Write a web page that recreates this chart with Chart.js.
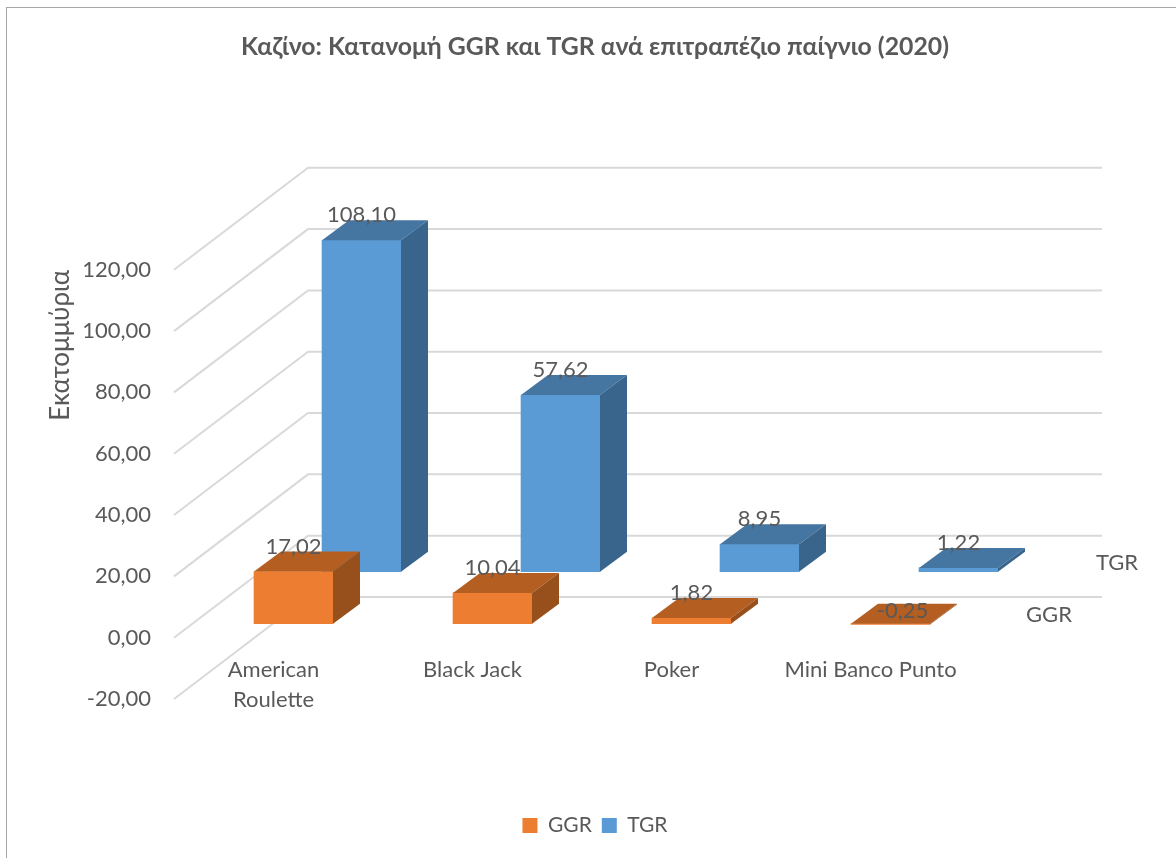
<!DOCTYPE html>
<html lang="el">
<head>
  <meta charset="UTF-8">
  <title>Καζίνο GGR TGR</title>
  <script src="https://cdn.jsdelivr.net/npm/chart.js"></script>
  <style>
    body { margin: 0; background: #fff; }
    #wrap { position: relative; width: 1176px; height: 858px; overflow: hidden; }
    #frame { position: absolute; left: 6px; top: 7px; width: 1300px; height: 1000px; border: 1px solid #a6a6a6; }
    canvas { position: absolute; left: 0; top: 0; }
  </style>
</head>
<body>
  <div id="wrap">
    <div id="frame"></div>
    <canvas id="casinoChart" width="1176" height="858"></canvas>
  </div>

  <script>
    const games = [['American', 'Roulette'], 'Black Jack', 'Poker', 'Mini Banco Punto'];
    const ggrValues = [17.02, 10.04, 1.82, -0.25];
    const tgrValues = [108.10, 57.62, 8.95, 1.22];

    const fontName = 'Lato, "Noto Sans", sans-serif';
    const textColor = '#595959';

    // how far each row sits back in the fake 3D floor
    const rowOffset = { GGR: [20, -14], TGR: [88, -66] };
    const faceColors = {
      GGR: { top: '#b45f21', side: '#974f1b' },
      TGR: { top: '#4575a1', side: '#39658c' }
    };
    const barDepth = [27, -20];
    const wallDepth = [134, -102];

    function formatNumber(v) {
      return v.toFixed(2).replace('.', ',');
    }

    const floorPlugin = {
      id: 'floor',
      // gridlines go along the floor then across the back wall
      beforeDatasetsDraw(chart) {
        const { ctx, scales } = chart;
        const y = scales.y;
        ctx.save();
        ctx.strokeStyle = '#d9d9d9';
        ctx.lineWidth = 2;
        y.ticks.forEach(t => {
          const py = y.getPixelForValue(t.value);
          ctx.beginPath();
          ctx.moveTo(scales.x.left, py);
          ctx.lineTo(scales.x.left + wallDepth[0], py + wallDepth[1]);
          ctx.lineTo(1102, py + wallDepth[1]);
          ctx.stroke();
        });
        ctx.restore();
      },
      beforeDatasetDraw(chart, args) {
        const off = rowOffset[args.meta.label];
        chart.ctx.save();
        chart.ctx.translate(off[0], off[1]);
      },
      afterDatasetDraw(chart, args) {
        const { ctx } = chart;
        const colors = faceColors[args.meta.label];
        args.meta.data.forEach(bar => {
          const left = bar.x - bar.width / 2;
          const right = bar.x + bar.width / 2;
          const top = Math.min(bar.y, bar.base);
          const bottom = Math.max(bar.y, bar.base);
          ctx.fillStyle = colors.top;
          ctx.beginPath();
          ctx.moveTo(left, top);
          ctx.lineTo(left + barDepth[0], top + barDepth[1]);
          ctx.lineTo(right + barDepth[0], top + barDepth[1]);
          ctx.lineTo(right, top);
          ctx.closePath();
          ctx.fill();
          ctx.fillStyle = colors.side;
          ctx.beginPath();
          ctx.moveTo(right, top);
          ctx.lineTo(right + barDepth[0], top + barDepth[1]);
          ctx.lineTo(right + barDepth[0], bottom + barDepth[1]);
          ctx.lineTo(right, bottom);
          ctx.closePath();
          ctx.fill();
        });
        ctx.restore();
      },
      afterDatasetsDraw(chart) {
        const { ctx, scales } = chart;
        ctx.save();
        ctx.font = '22px ' + fontName;
        ctx.fillStyle = textColor;
        ctx.textAlign = 'center';
        ctx.textBaseline = 'middle';
        chart.data.datasets.forEach((ds, i) => {
          const off = rowOffset[ds.label];
          chart.getDatasetMeta(i).data.forEach((bar, j) => {
            const v = ds.data[j];
            const top = Math.min(bar.y, bar.base);
            const lx = bar.x + off[0] + (v < 0 ? 12 : 0);
            const ly = top + off[1] + (v < 0 ? -13 : -25);
            ctx.fillText(formatNumber(v), lx, ly);
          });
          // series name at the end of the depth axis
          ctx.fillText(ds.label, scales.x.right + off[0] + 59, scales.y.getPixelForValue(0) + off[1] - 9);
        });
        ctx.restore();
      }
    };

    new Chart(document.getElementById('casinoChart'), {
      type: 'bar',
      data: {
        labels: games,
        datasets: [
          { label: 'GGR', data: ggrValues, backgroundColor: '#ed7d31' },
          { label: 'TGR', data: tgrValues, backgroundColor: '#5b9bd5' }
        ]
      },
      plugins: [floorPlugin],
      options: {
        responsive: false,
        animation: false,
        grouped: false,
        barThickness: 79,
        layout: { padding: { left: 14, top: 0, right: 0, bottom: 12 } },
        plugins: {
          tooltip: { enabled: false },
          title: {
            display: true,
            text: 'Καζίνο: Κατανομή GGR και TGR ανά επιτραπέζιο παίγνιο (2020)',
            color: textColor,
            font: { family: fontName, size: 24.8, weight: 'bold' },
            padding: { top: 32, bottom: 208 }
          },
          legend: {
            position: 'bottom',
            labels: {
              color: textColor,
              font: { family: fontName, size: 21 },
              boxWidth: 15,
              boxHeight: 15,
              padding: 10
            }
          }
        },
        scales: {
          x: {
            position: { y: 0 },
            grid: { display: false, drawTicks: false },
            border: { display: false },
            ticks: {
              color: textColor,
              font: { family: fontName, size: 22, lineHeight: 1.36 },
              padding: 17,
              maxRotation: 0,
              autoSkip: false
            }
          },
          y: {
            min: -20,
            max: 120,
            grid: { display: false, drawTicks: false },
            border: { display: false },
            afterFit(s) { s.width = 160; },
            title: {
              display: true,
              text: 'Εκατομμύρια',
              align: 'end',
              color: textColor,
              font: { family: fontName, size: 26 },
              padding: { top: 31 }
            },
            ticks: {
              stepSize: 20,
              color: textColor,
              font: { family: fontName, size: 22 },
              padding: 23,
              callback: v => formatNumber(v)
            }
          },
          // empty axes only to keep room for the depth of the floor and above the legend
          spacer: {
            position: 'right',
            grid: { display: false },
            border: { display: false },
            ticks: { display: false },
            afterFit(s) { s.width = 206; }
          },
          spacerBottom: {
            position: 'bottom',
            axis: 'x',
            grid: { display: false },
            border: { display: false },
            ticks: { display: false },
            afterFit(s) { s.height = 106; }
          }
        }
      }
    });
  </script>
</body>
</html>
